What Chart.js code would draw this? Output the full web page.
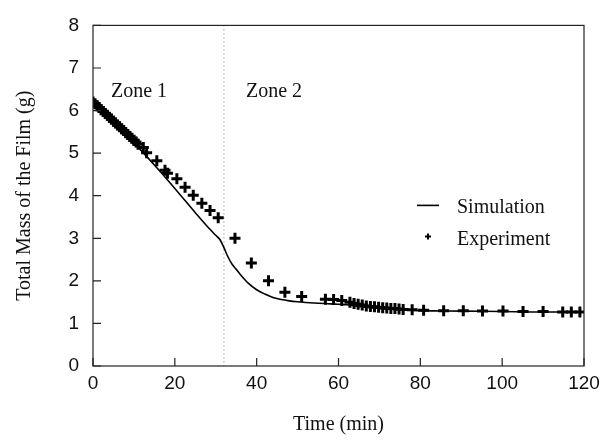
<!DOCTYPE html>
<html>
<head>
<meta charset="utf-8">
<script src="https://cdn.jsdelivr.net/npm/chart.js@4.4.1/dist/chart.umd.min.js"></script>
<style>
  html, body { margin: 0; padding: 0; background: #fff; }
  #wrap { width: 610px; height: 441px; }
</style>
</head>
<body>
<div id="wrap"><canvas id="myChart"></canvas></div>
<script>
// simulation curve (time in min, mass in g)
const simTime = [0, 5, 10, 15, 20, 25, 28, 30, 31, 32, 33, 34, 35, 36, 38, 40, 42, 44, 46, 48, 50, 54, 58, 60, 62, 65, 70, 75, 80, 90, 100, 110, 120];
const simMass = [6.2, 5.72, 5.24, 4.72, 4.17, 3.6, 3.27, 3.07, 2.97, 2.78, 2.56, 2.39, 2.27, 2.15, 1.94, 1.79, 1.69, 1.61, 1.56, 1.53, 1.51, 1.48, 1.46, 1.45, 1.44, 1.4, 1.35, 1.32, 1.3, 1.29, 1.28, 1.27, 1.27];

// experiment points
const expTime = [0, 0.5, 1, 1.5, 2, 2.5, 3, 3.5, 4, 4.5, 5, 5.5, 6, 6.5, 7, 7.5, 8, 8.5, 9, 9.5, 10, 10.5, 11,
  12.3, 13.1, 15.6, 17.6, 18.2, 20.5, 22.5, 24.5, 26.6, 28.6, 30.6, 34.7, 38.7, 42.9, 46.9, 51, 56.8, 58.8, 60.8, 62.8,
  63.8, 64.8, 65.8, 66.8, 67.8, 68.8, 69.8, 70.8, 71.8, 72.8, 73.8, 74.8, 75.8, 78, 80.8, 85.7, 90.5, 95.2, 100.2, 105.1, 110, 114.8, 116.9, 119];
const expMass = [6.2, 6.16, 6.11, 6.07, 6.02, 5.98, 5.93, 5.89, 5.84, 5.8, 5.75, 5.71, 5.66, 5.62, 5.57, 5.53, 5.48, 5.44, 5.39, 5.35, 5.3, 5.26, 5.21,
  5.13, 5.01, 4.82, 4.6, 4.53, 4.4, 4.2, 4.01, 3.82, 3.65, 3.48, 3.0, 2.42, 2.0, 1.73, 1.63, 1.57, 1.56, 1.54, 1.5,
  1.47, 1.45, 1.43, 1.41, 1.4, 1.39, 1.38, 1.37, 1.36, 1.35, 1.35, 1.34, 1.33, 1.32, 1.31, 1.3, 1.3, 1.29, 1.29, 1.28, 1.28, 1.27, 1.27, 1.27];

const xTicks = [0, 20, 40, 60, 80, 100, 120];
const yTicks = [0, 1, 2, 3, 4, 5, 6, 7, 8];
const zoneBoundary = 32;
const zoneLabels = [{ text: "Zone 1", x: 4.4, y: 6.44 }, { text: "Zone 2", x: 37.4, y: 6.44 }];

const serif = "'Liberation Serif', 'Times New Roman', serif";
const sans = "'Liberation Sans', Arial, sans-serif";

const simPoints = simTime.map((t, i) => ({ x: t, y: simMass[i] }));
const expPoints = expTime.map((t, i) => ({ x: t, y: expMass[i] }));

// frame, inward ticks, zone line, zone labels and the legend
const decorPlugin = {
  id: "decor",
  beforeDatasetsDraw(chart) {
    const { ctx, chartArea: a, scales } = chart;
    const xs = scales.x, ys = scales.y;
    ctx.save();
    // dotted zone boundary
    const bx = xs.getPixelForValue(zoneBoundary);
    ctx.strokeStyle = "#777";
    ctx.lineWidth = 1;
    ctx.setLineDash([1, 3]);
    ctx.beginPath();
    ctx.moveTo(bx, a.top);
    ctx.lineTo(bx, a.bottom);
    ctx.stroke();
    ctx.setLineDash([]);
    // zone labels
    ctx.fillStyle = "#111";
    ctx.font = "20px " + serif;
    ctx.textBaseline = "middle";
    ctx.textAlign = "left";
    zoneLabels.forEach((z) => {
      ctx.fillText(z.text, xs.getPixelForValue(z.x), ys.getPixelForValue(z.y));
    });
    ctx.restore();
  },
  afterDraw(chart) {
    const { ctx, chartArea: a, scales } = chart;
    const xs = scales.x, ys = scales.y;
    ctx.save();
    ctx.strokeStyle = "#222";
    ctx.lineWidth = 1.2;
    ctx.strokeRect(a.left, a.top, a.right - a.left, a.bottom - a.top);
    ctx.beginPath();
    xTicks.forEach((v) => {
      const px = xs.getPixelForValue(v);
      ctx.moveTo(px, a.bottom);
      ctx.lineTo(px, a.bottom - 8);
    });
    yTicks.forEach((v) => {
      const py = ys.getPixelForValue(v);
      ctx.moveTo(a.left, py);
      ctx.lineTo(a.left + 8, py);
    });
    ctx.stroke();

    // legend
    const lx = a.left + 324, ly = a.top + 180;
    ctx.strokeStyle = "#000";
    ctx.lineWidth = 1.6;
    ctx.beginPath();
    ctx.moveTo(lx, ly);
    ctx.lineTo(lx + 22, ly);
    ctx.stroke();
    ctx.lineWidth = 2;
    ctx.beginPath();
    ctx.moveTo(lx + 8, ly + 31);
    ctx.lineTo(lx + 14, ly + 31);
    ctx.moveTo(lx + 11, ly + 28);
    ctx.lineTo(lx + 11, ly + 34);
    ctx.stroke();
    ctx.fillStyle = "#111";
    ctx.font = "20px " + serif;
    ctx.textBaseline = "middle";
    ctx.textAlign = "left";
    ctx.fillText(chart.data.datasets[0].label, lx + 40, ly + 2);
    ctx.fillText(chart.data.datasets[1].label, lx + 40, ly + 34);
    ctx.restore();
  }
};

const config = {
  type: "scatter",
  data: {
    datasets: [
      {
        label: "Simulation",
        type: "line",
        data: simPoints,
        borderColor: "#000",
        borderWidth: 1.6,
        pointRadius: 0,
        cubicInterpolationMode: "monotone",
        fill: false,
        order: 2
      },
      {
        label: "Experiment",
        data: expPoints,
        pointStyle: "cross",
        pointRadius: 5.5,
        pointBorderWidth: 3,
        borderColor: "#000",
        backgroundColor: "#000",
        order: 1
      }
    ]
  },
  options: {
    responsive: true,
    maintainAspectRatio: false,
    animation: false,
    layout: { padding: { left: 0, right: 26, top: 18, bottom: 0 } },
    plugins: {
      legend: { display: false },
      tooltip: { enabled: false }
    },
    scales: {
      x: {
        type: "linear",
        min: 0,
        max: 120,
        afterBuildTicks: (s) => { s.ticks = xTicks.map((v) => ({ value: v })); },
        afterFit: (s) => { s.height = 75; },
        grid: { display: false, drawTicks: false },
        border: { display: false },
        ticks: { color: "#111", padding: 6, font: { family: sans, size: 19 } },
        title: { display: true, text: "Time (min)", color: "#111", padding: { top: 7 }, font: { family: serif, size: 20 } }
      },
      y: {
        type: "linear",
        min: 0,
        max: 8,
        afterBuildTicks: (s) => { s.ticks = yTicks.map((v) => ({ value: v })); },
        afterFit: (s) => { s.width = 93; },
        grid: { display: false, drawTicks: false },
        border: { display: false },
        ticks: { color: "#111", padding: 14, font: { family: sans, size: 19 } },
        title: { display: true, text: "Total Mass of the Film (g)", color: "#111", padding: { top: 13, bottom: 0 }, font: { family: serif, size: 20 } }
      }
    }
  },
  plugins: [decorPlugin]
};

new Chart(document.getElementById("myChart"), config);
</script>
</body>
</html>
